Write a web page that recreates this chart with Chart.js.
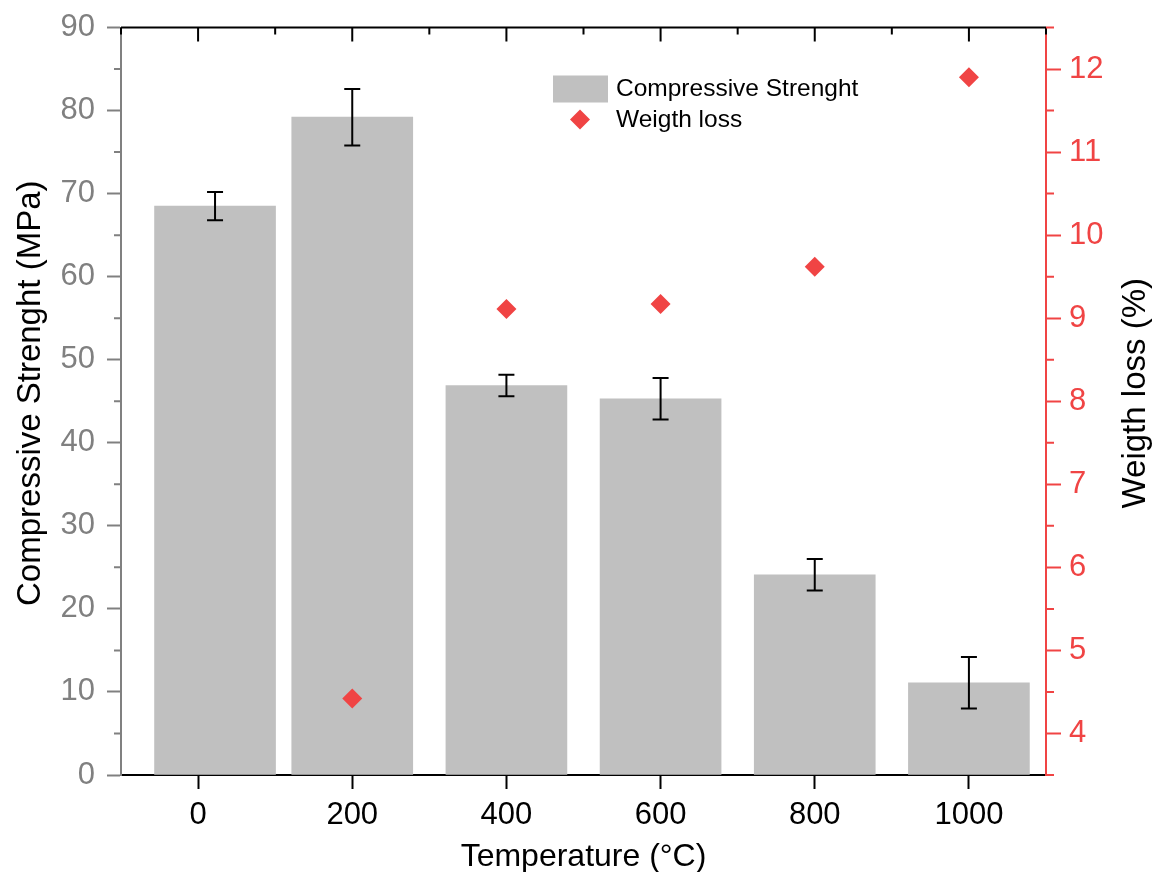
<!DOCTYPE html>
<html>
<head>
<meta charset="utf-8">
<script src="https://cdn.jsdelivr.net/npm/chart.js@4/dist/chart.umd.min.js"></script>
<style>
  body { margin: 0; background: #fff; }
  #wrap { width: 1155px; height: 872px; }
</style>
</head>
<body>
<div id="wrap"><canvas id="chart"></canvas></div>
<script>
// temperatures (first specimen is room temperature)
const temps = [22, 200, 400, 600, 800, 1000];
const strength = [68.5, 79.2, 46.9, 45.3, 24.1, 11.1];
const strengthErr = [1.7, 3.4, 1.3, 2.5, 1.9, 3.1];

const lossTemps = [200, 400, 600, 800, 1000];
const weightLoss = [4.42, 9.11, 9.17, 9.62, 11.9];

const xTicks = [0, 200, 400, 600, 800, 1000];
const xMinor = [-100, 100, 300, 500, 700, 900, 1100];
const leftTicks = [0, 10, 20, 30, 40, 50, 60, 70, 80, 90];
const leftMinor = [5, 15, 25, 35, 45, 55, 65, 75, 85];
const rightTicks = [4, 5, 6, 7, 8, 9, 10, 11, 12];
const rightMinor = [3.5, 4.5, 5.5, 6.5, 7.5, 8.5, 9.5, 10.5, 11.5, 12.5];

const leftTitle = 'Compressive Strenght (MPa)';
const rightTitle = 'Weigth loss (%)';

const RED = '#f04444';
const GRAY = '#c0c0c0';
const AXGRAY = '#808080';
const FONT = "'Liberation Sans', Arial, sans-serif";

function setTicks(list) {
    return function(scale) {
        scale.ticks = list.map(v => ({ value: v }));
    }
}

// error bars, minor ticks, top frame, vertical titles and legend
const extras = {
    id: 'extras',
    afterDatasetsDraw(chart) {
        const ctx = chart.ctx;
        const x = chart.scales.x, y = chart.scales.y;
        ctx.save();
        ctx.strokeStyle = '#000';
        ctx.lineWidth = 2;
        for (let i = 0; i < temps.length; i++) {
            let px = x.getPixelForValue(temps[i]);
            let top = y.getPixelForValue(strength[i] + strengthErr[i]);
            let bot = y.getPixelForValue(strength[i] - strengthErr[i]);
            ctx.beginPath();
            ctx.moveTo(px, top); ctx.lineTo(px, bot);
            ctx.moveTo(px - 8, top); ctx.lineTo(px + 8, top);
            ctx.moveTo(px - 8, bot); ctx.lineTo(px + 8, bot);
            ctx.stroke();
        }
        ctx.restore();
    },
    afterDraw(chart) {
        const ctx = chart.ctx;
        const a = chart.chartArea;
        const x = chart.scales.x, y = chart.scales.y, y2 = chart.scales.y2;
        ctx.save();
        ctx.lineWidth = 2;

        // top frame with inward ticks
        ctx.strokeStyle = '#000';
        ctx.beginPath();
        ctx.moveTo(a.left, a.top); ctx.lineTo(a.right, a.top);
        xTicks.forEach(v => { let p = x.getPixelForValue(v); ctx.moveTo(p, a.top); ctx.lineTo(p, a.top + 14); });
        xMinor.forEach(v => { let p = x.getPixelForValue(v); ctx.moveTo(p, a.top); ctx.lineTo(p, a.top + 7); });
        ctx.stroke();

        // left minor ticks
        ctx.strokeStyle = AXGRAY;
        ctx.beginPath();
        leftMinor.forEach(v => { let p = y.getPixelForValue(v); ctx.moveTo(a.left, p); ctx.lineTo(a.left - 7, p); });
        ctx.stroke();

        // right minor ticks
        ctx.strokeStyle = RED;
        ctx.beginPath();
        rightMinor.forEach(v => { let p = y2.getPixelForValue(v); ctx.moveTo(a.right, p); ctx.lineTo(a.right + 8, p); });
        ctx.stroke();

        // vertical axis titles, both read bottom to top
        ctx.fillStyle = '#000';
        ctx.font = '33px ' + FONT;
        ctx.textAlign = 'center';
        ctx.textBaseline = 'middle';
        let cy = (a.top + a.bottom) / 2 - 8;
        ctx.save();
        ctx.translate(31, cy);
        ctx.rotate(-Math.PI / 2);
        ctx.fillText(leftTitle, 0, 0);
        ctx.restore();
        ctx.save();
        ctx.translate(a.right + 90, cy);
        ctx.rotate(-Math.PI / 2);
        ctx.fillText(rightTitle, 0, 0);
        ctx.restore();

        // legend
        let lx = a.left + 432, ly = a.top + 48;
        ctx.textAlign = 'left';
        ctx.fillStyle = GRAY;
        ctx.fillRect(lx, ly, 55, 27);
        ctx.fillStyle = RED;
        ctx.beginPath();
        ctx.moveTo(lx + 27, ly + 34); ctx.lineTo(lx + 37, ly + 44);
        ctx.lineTo(lx + 27, ly + 54); ctx.lineTo(lx + 17, ly + 44);
        ctx.closePath();
        ctx.fill();
        ctx.fillStyle = '#000';
        ctx.font = '24.5px ' + FONT;
        ctx.fillText(chart.data.datasets[0].label, lx + 63, ly + 14);
        ctx.fillText(chart.data.datasets[1].label, lx + 63, ly + 45);
        ctx.restore();
    }
};

new Chart(document.getElementById('chart'), {
    type: 'bar',
    data: {
        datasets: [{
            label: 'Compressive Strenght',
            data: temps.map((t, i) => ({ x: t, y: strength[i] })),
            backgroundColor: GRAY,
            barThickness: 121,
            yAxisID: 'y',
            order: 2
        }, {
            type: 'scatter',
            label: 'Weigth loss',
            data: lossTemps.map((t, i) => ({ x: t, y: weightLoss[i] })),
            pointStyle: 'rectRot',
            pointRadius: 10,
            pointHoverRadius: 10,
            backgroundColor: RED,
            borderWidth: 0,
            yAxisID: 'y2',
            order: 1
        }]
    },
    options: {
        responsive: true,
        maintainAspectRatio: false,
        animation: false,
        layout: { padding: { top: 27 } },
        plugins: { legend: { display: false }, tooltip: { enabled: false } },
        scales: {
            x: {
                type: 'linear',
                min: -100,
                max: 1100,
                offset: false,
                afterBuildTicks: setTicks(xTicks),
                afterFit(scale) { scale.height = 97; },
                grid: { offset: false, drawOnChartArea: false, tickLength: 14, tickColor: '#000', tickWidth: 2 },
                border: { color: '#000', width: 2 },
                ticks: { color: '#000', padding: 8, font: { family: FONT, size: 31 }, callback: v => String(v) },
                title: { display: true, text: 'Temperature (°C)', color: '#000', padding: 0, font: { family: FONT, size: 32, lineHeight: 0.9 } }
            },
            y: {
                position: 'left',
                min: 0,
                max: 90,
                afterBuildTicks: setTicks(leftTicks),
                afterFit(scale) { scale.width = 121; },
                grid: { drawOnChartArea: false, tickLength: 14, tickColor: AXGRAY, tickWidth: 2 },
                border: { color: AXGRAY, width: 2 },
                ticks: { color: AXGRAY, padding: 12, font: { family: FONT, size: 31, lineHeight: 1 } },
                title: { display: false }
            },
            y2: {
                position: 'right',
                min: 3.5,
                max: 12.5,
                afterBuildTicks: setTicks(rightTicks),
                afterFit(scale) { scale.width = 109; },
                grid: { drawOnChartArea: false, tickLength: 15, tickColor: RED, tickWidth: 2 },
                border: { color: RED, width: 2 },
                ticks: { color: RED, padding: 8, font: { family: FONT, size: 31, lineHeight: 1 } },
                title: { display: false }
            }
        }
    },
    plugins: [extras]
});
</script>
</body>
</html>
